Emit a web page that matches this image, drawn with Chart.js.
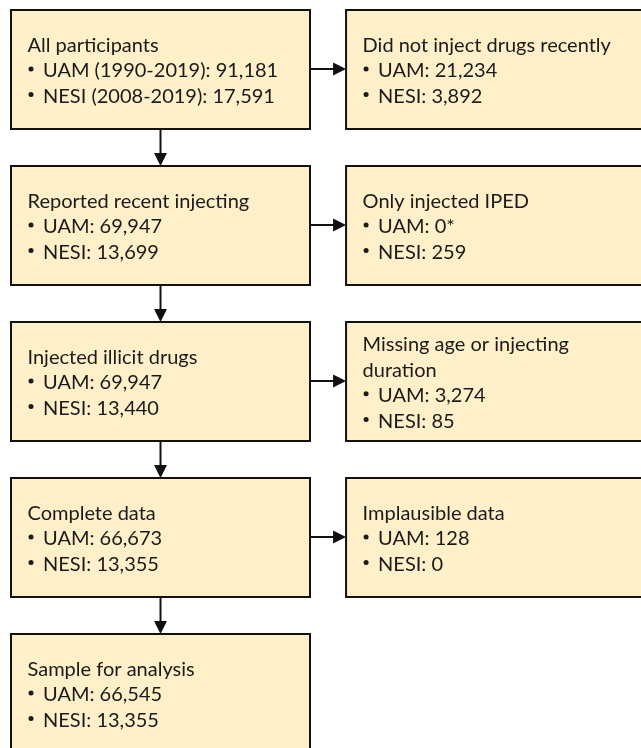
<!DOCTYPE html>
<html>
<head>
<meta charset="utf-8">
<script src="https://cdn.jsdelivr.net/npm/chart.js@4"></script>
<style>
  html, body { margin: 0; padding: 0; background: #ffffff; }
  #wrap { width: 641px; height: 748px; }
</style>
</head>
<body>
<div id="wrap"><canvas id="flowChart" width="641" height="748"></canvas></div>
<script>
// --- DATA: main flow (left column) ---
const stepTitles = ['All participants', 'Reported recent injecting', 'Injected illicit drugs', 'Complete data', 'Sample for analysis'];
const stepUamLabels = ['UAM (1990-2019)', 'UAM', 'UAM', 'UAM', 'UAM'];
const stepNesiLabels = ['NESI (2008-2019)', 'NESI', 'NESI', 'NESI', 'NESI'];
const stepUam = [91181, 69947, 69947, 66673, 66545];
const stepNesi = [17591, 13699, 13440, 13355, 13355];

// --- DATA: exclusions (right column) ---
const exclTitles = ['Did not inject drugs recently', 'Only injected IPED', 'Missing age or injecting duration', 'Implausible data'];
const exclUam = [21234, 0, 3274, 128];
const exclUamNotes = ['', '*', '', ''];
const exclNesi = [3892, 259, 85, 0];

// --- STYLE ---
const boxW = 299;
const boxH = 119;
const boxFill = '#fff0ca';
const lineColor = '#111111';
const textColor = '#1a1a1a';
const fontSize = 20;
const fontFamily = 'Lato, "Open Sans", sans-serif';
const lineGap = 25.7;
const padX = 16.5;
const bulletIndent = 15.5;

const fmt = n => n.toLocaleString('en-US');

// build one point per box: x = column, y = row
const boxes = [];
stepTitles.forEach((t, i) => {
    boxes.push({ x: 0, y: i, title: t,
        lines: [stepUamLabels[i] + ': ' + fmt(stepUam[i]), stepNesiLabels[i] + ': ' + fmt(stepNesi[i])] });
});
exclTitles.forEach((t, i) => {
    boxes.push({ x: 1, y: i, title: t,
        lines: ['UAM: ' + fmt(exclUam[i]) + exclUamNotes[i], 'NESI: ' + fmt(exclNesi[i])] });
});

function wrapText(ctx, text, maxW) {
    const words = text.split(' ');
    const out = [];
    let cur = '';
    words.forEach(w => {
        const test = cur ? cur + ' ' + w : w;
        if (ctx.measureText(test).width > maxW && cur) {
            out.push(cur);
            cur = w;
        } else {
            cur = test;
        }
    });
    if (cur) out.push(cur);
    return out;
}

function arrowHead(ctx, x, y, dir) {
    const len = 13, half = 6.5;
    ctx.beginPath();
    if (dir === 'down') {
        ctx.moveTo(x, y);
        ctx.lineTo(x - half, y - len);
        ctx.lineTo(x + half, y - len);
    } else {
        ctx.moveTo(x, y);
        ctx.lineTo(x - len, y - half);
        ctx.lineTo(x - len, y + half);
    }
    ctx.closePath();
    ctx.fill();
}

// plugin that turns each scatter point into a flow box
const flowBoxes = {
    id: 'flowBoxes',
    afterDatasetsDraw(chart) {
        const ctx = chart.ctx;
        const pts = chart.getDatasetMeta(0).data;
        const pos = {};
        pts.forEach((el, i) => { pos[boxes[i].x + '-' + boxes[i].y] = el; });

        ctx.save();
        // arrows
        ctx.strokeStyle = lineColor;
        ctx.fillStyle = lineColor;
        ctx.lineWidth = 2;
        stepTitles.forEach((t, i) => {
            const a = pos['0-' + i];
            const next = pos['0-' + (i + 1)];
            if (next) {
                const x = Math.round(a.x) - 0.5;
                const y0 = a.y + boxH / 2;
                const y1 = next.y - boxH / 2;
                ctx.beginPath();
                ctx.moveTo(x, y0);
                ctx.lineTo(x, y1 - 10);
                ctx.stroke();
                arrowHead(ctx, x, y1, 'down');
            }
            const side = pos['1-' + i];
            if (side) {
                const y = Math.round(a.y);
                const x0 = a.x + boxW / 2;
                const x1 = side.x - boxW / 2;
                ctx.beginPath();
                ctx.moveTo(x0, y);
                ctx.lineTo(x1 - 10, y);
                ctx.stroke();
                arrowHead(ctx, x1, y, 'right');
            }
        });

        // boxes and text
        ctx.font = fontSize + 'px ' + fontFamily;
        ctx.textBaseline = 'alphabetic';
        ctx.textAlign = 'left';
        pts.forEach((el, i) => {
            const b = boxes[i];
            const left = el.x - boxW / 2;
            const top = el.y - boxH / 2;
            ctx.fillStyle = boxFill;
            ctx.fillRect(left, top, boxW, boxH);
            ctx.strokeStyle = lineColor;
            ctx.lineWidth = 2;
            ctx.strokeRect(left, top, boxW, boxH);

            const titleLines = wrapText(ctx, b.title, boxW - 2 * padX);
            const all = titleLines.map(s => ({ s, bullet: false }))
                .concat(b.lines.map(s => ({ s, bullet: true })));
            const n = all.length;
            ctx.fillStyle = textColor;
            all.forEach((ln, k) => {
                const y = top + 67.4 + (k - (n - 1) / 2) * lineGap;
                if (ln.bullet) {
                    ctx.beginPath();
                    ctx.arc(left + padX + 3.5, y - 8.5, 2.5, 0, Math.PI * 2);
                    ctx.fill();
                    ctx.fillText(ln.s, left + padX + bulletIndent, y);
                } else {
                    ctx.fillText(ln.s, left + padX, y);
                }
            });
        });
        ctx.restore();
    }
};

const config = {
    type: 'scatter',
    data: {
        datasets: [{
            data: boxes.map(b => ({ x: b.x, y: b.y })),
            pointRadius: 0,
            pointHoverRadius: 0
        }]
    },
    options: {
        responsive: false,
        animation: false,
        events: [],
        layout: { padding: 0 },
        scales: {
            x: { type: 'linear', min: -0.479, max: 1.434, display: false },
            y: { type: 'linear', min: -0.4455, max: 4.3494, reverse: true, display: false }
        },
        plugins: {
            legend: { display: false },
            tooltip: { enabled: false }
        }
    },
    plugins: [flowBoxes]
};

window.onload = () => {
    const ctx = document.getElementById('flowChart').getContext('2d');
    new Chart(ctx, config);
};
</script>
</body>
</html>
